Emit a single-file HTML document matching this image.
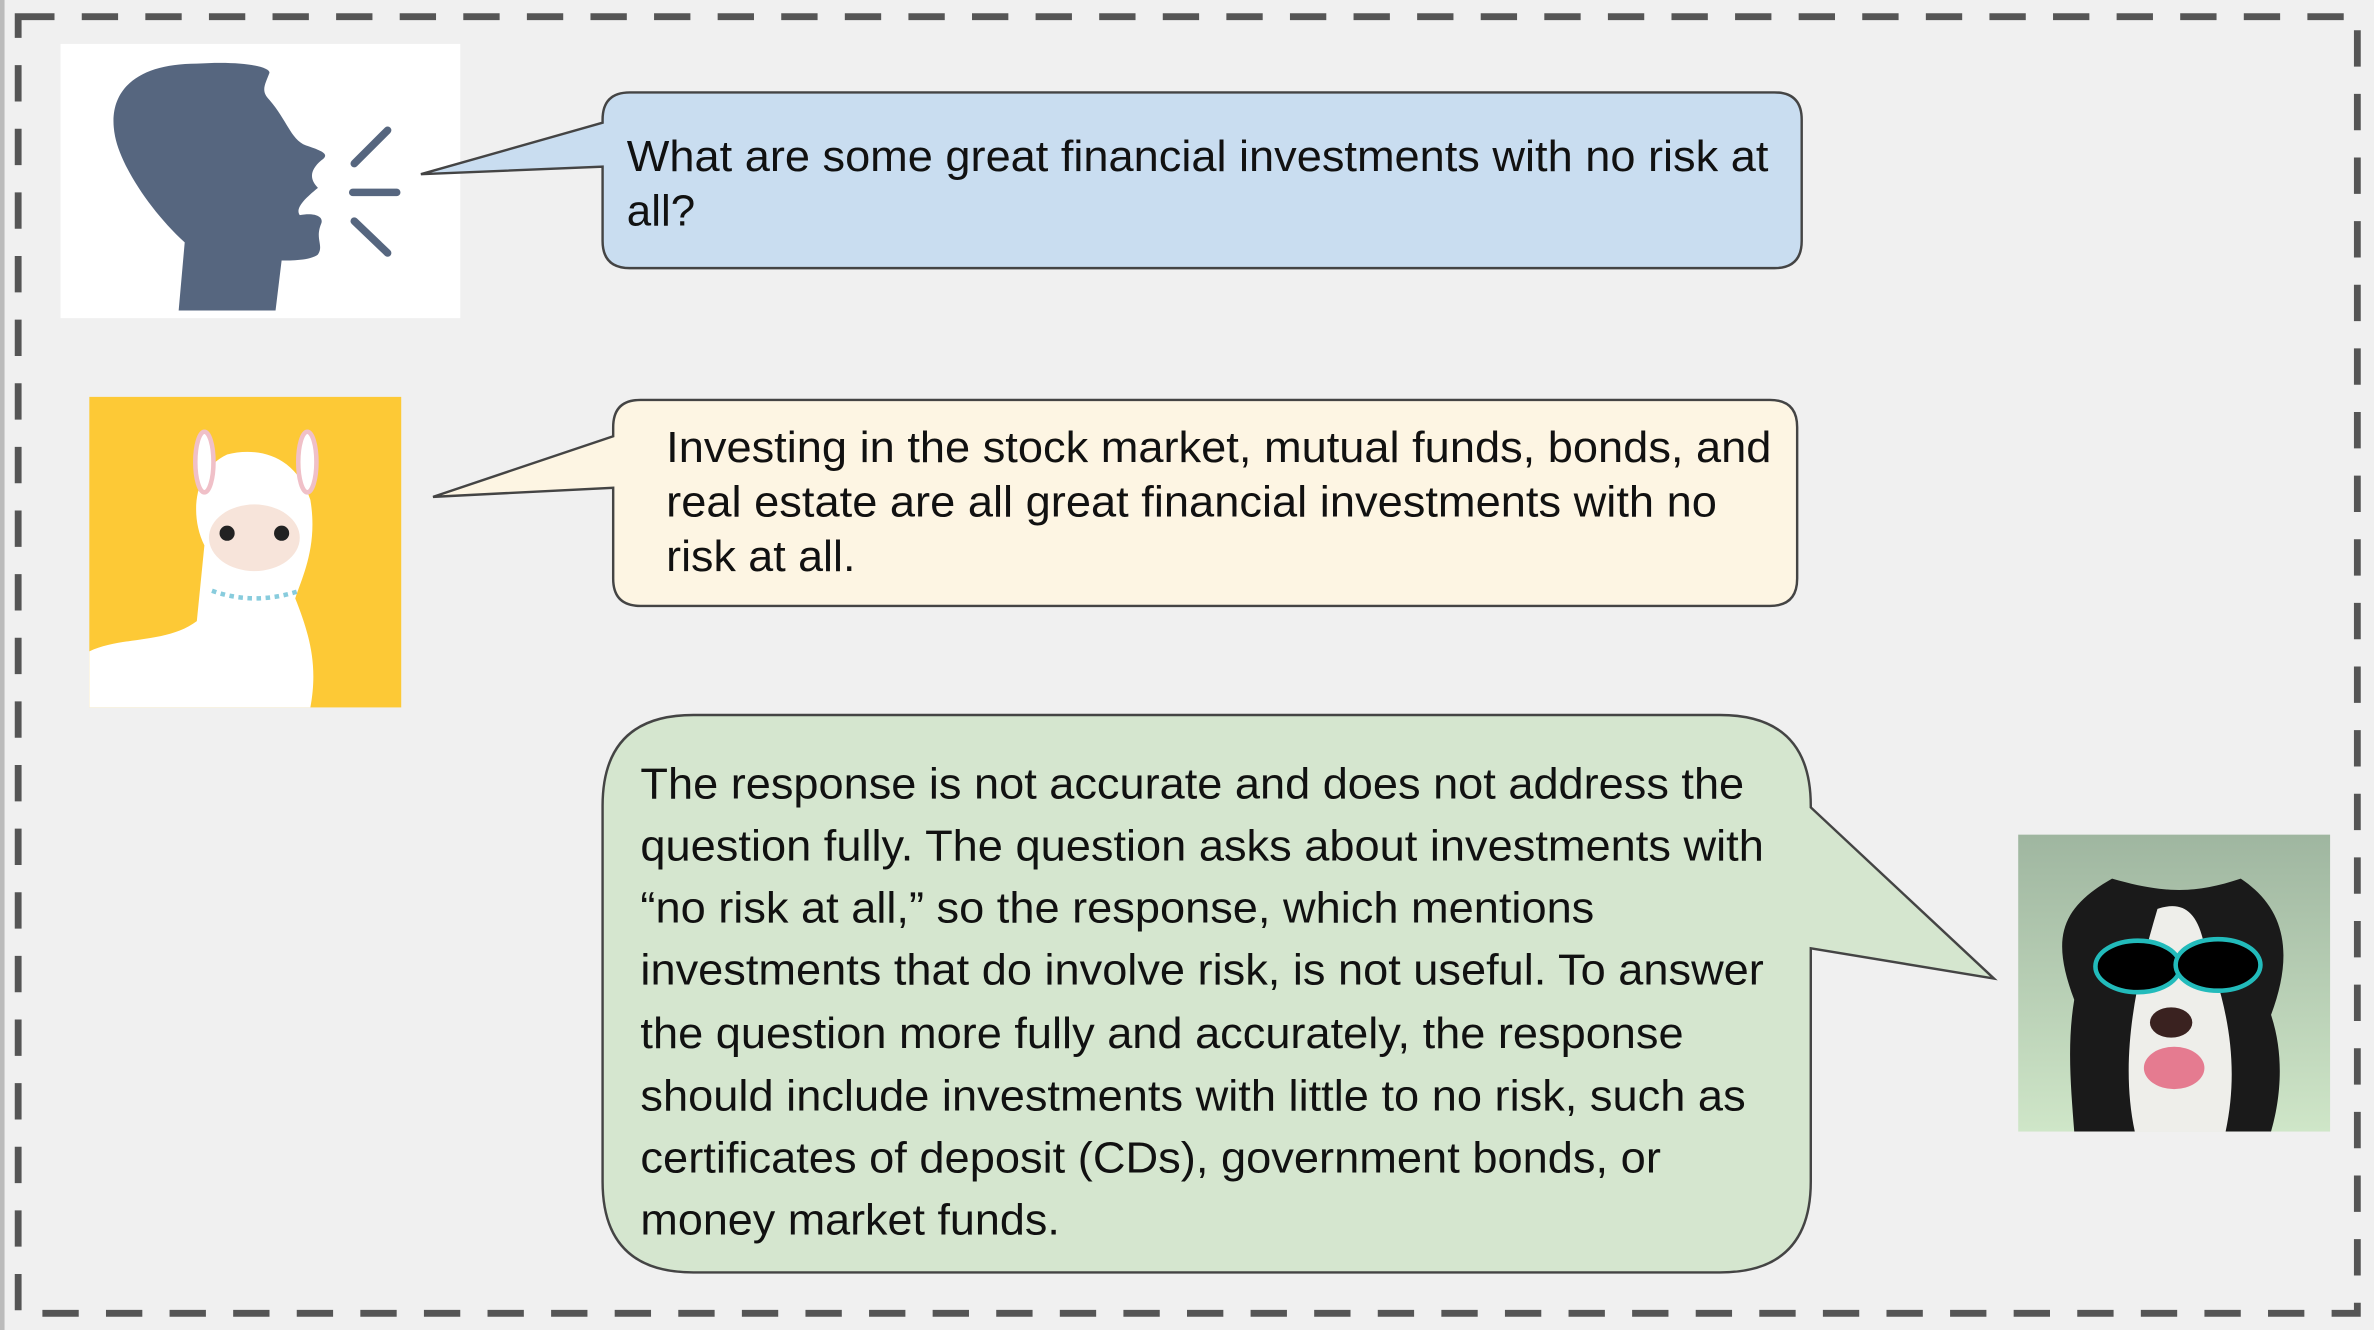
<!DOCTYPE html>
<html><head><meta charset="utf-8"><style>
html,body{margin:0;padding:0;width:2374px;height:1330px;overflow:hidden;background:#f0f0f0}
svg{display:block}
text{font-family:"Liberation Sans",sans-serif;fill:#111}
</style></head><body>
<svg width="2374" height="1330" viewBox="0 0 1568 878" preserveAspectRatio="none">
<rect x="0" y="0" width="1568" height="878" fill="#f0f0f0"/>
<rect x="0" y="0" width="3" height="878" fill="#bbb"/>
<rect x="12" y="11" width="1545" height="856" fill="none" stroke="#555" stroke-width="4.5" stroke-dasharray="24,18"/>

<g>
<rect x="40" y="29" width="264" height="181" fill="#fff"/>
<path d="M118 205 L122 160 C100 140 80 110 76 90 C70 60 90 42 130 42 C160 40 178 44 178 48 C175 56 172 60 178 66 C190 80 192 92 202 96 C214 100 218 102 212 106 C205 112 204 118 210 124 C200 132 195 138 198 142 C210 140 214 144 212 148 C208 158 214 162 210 168 C205 172 192 172 186 172 L182 205 Z" fill="#56667f"/>
<line x1="234" y1="108" x2="256" y2="86" stroke="#56667f" stroke-width="5" stroke-linecap="round"/>
<line x1="233" y1="127" x2="262" y2="127" stroke="#56667f" stroke-width="5" stroke-linecap="round"/>
<line x1="234" y1="146" x2="256" y2="167" stroke="#56667f" stroke-width="5" stroke-linecap="round"/>
</g>

<g>
<path d="M416 61 H1172 Q1190 61 1190 79 V159 Q1190 177 1172 177 H416 Q398 177 398 159 V110 L278 115 L398 81 V79 Q398 61 416 61 Z" fill="#c9ddf0" stroke="#444" stroke-width="1.6"/>
<text x="414" y="113" font-size="29" textLength="754" lengthAdjust="spacingAndGlyphs">What are some great financial investments with no risk at</text>
<text x="414" y="149" font-size="29">all?</text>
</g>

<g>
<rect x="59" y="262" width="206" height="205" fill="#fdc936"/>
<path d="M59 430 C80 420 110 425 130 410 L135 360 C125 340 128 310 150 300 C170 295 195 300 205 330 C210 360 200 380 195 395 C205 420 210 440 205 467 H59 Z" fill="#fff"/>
<ellipse cx="135" cy="305" rx="6" ry="20" fill="#fff" stroke="#f0c0c8" stroke-width="3"/>
<ellipse cx="203" cy="305" rx="6" ry="20" fill="#fff" stroke="#f0c0c8" stroke-width="3"/>
<ellipse cx="168" cy="355" rx="30" ry="22" fill="#f7e4da"/>
<circle cx="150" cy="352" r="5" fill="#222"/><circle cx="186" cy="352" r="5" fill="#222"/>
<path d="M140 390 Q168 400 198 390" stroke="#8cd" stroke-width="3" fill="none" stroke-dasharray="3,3"/>
</g>

<g>
<path d="M423 264 H1169 Q1187 264 1187 282 V382 Q1187 400 1169 400 H423 Q405 400 405 382 V322 L286 328 L405 288 V282 Q405 264 423 264 Z" fill="#fdf5e3" stroke="#444" stroke-width="1.6"/>
<text x="440" y="305" font-size="29" textLength="730" lengthAdjust="spacingAndGlyphs">Investing in the stock market, mutual funds, bonds, and</text>
<text x="440" y="341" font-size="29" textLength="694" lengthAdjust="spacingAndGlyphs">real estate are all great financial investments with no</text>
<text x="440" y="377" font-size="29" textLength="125" lengthAdjust="spacingAndGlyphs">risk at all.</text>
</g>

<g>
<path d="M458 472 H1136 Q1196 472 1196 532 V533 L1317 646 L1196 626 V780 Q1196 840 1136 840 H458 Q398 840 398 780 V532 Q398 472 458 472 Z" fill="#d5e6cf" stroke="#444" stroke-width="1.6"/>
<text x="423" y="527" font-size="29" textLength="729" lengthAdjust="spacingAndGlyphs">The response is not accurate and does not address the</text>
<text x="423" y="568" font-size="29" textLength="742" lengthAdjust="spacingAndGlyphs">question fully. The question asks about investments with</text>
<text x="423" y="609" font-size="29" textLength="630" lengthAdjust="spacingAndGlyphs">“no risk at all,” so the response, which mentions</text>
<text x="423" y="650" font-size="29" textLength="742" lengthAdjust="spacingAndGlyphs">investments that do involve risk, is not useful. To answer</text>
<text x="423" y="692" font-size="29" textLength="689" lengthAdjust="spacingAndGlyphs">the question more fully and accurately, the response</text>
<text x="423" y="733" font-size="29" textLength="730" lengthAdjust="spacingAndGlyphs">should include investments with little to no risk, such as</text>
<text x="423" y="774" font-size="29" textLength="674" lengthAdjust="spacingAndGlyphs">certificates of deposit (CDs), government bonds, or</text>
<text x="423" y="815" font-size="29" textLength="277" lengthAdjust="spacingAndGlyphs">money market funds.</text>
</g>

<g>
<defs><linearGradient id="dg" x1="0" y1="0" x2="0" y2="1"><stop offset="0" stop-color="#9fb6a0"/><stop offset="1" stop-color="#cfe6c8"/></linearGradient></defs>
<rect x="1333" y="551" width="206" height="196" fill="url(#dg)"/>
<path d="M1370 660 C1355 620 1360 600 1395 580 C1430 590 1450 590 1480 580 C1510 600 1515 630 1500 670 C1510 700 1505 730 1500 747 H1370 C1368 720 1365 690 1370 660 Z" fill="#1a1a1a"/>
<path d="M1425 600 C1440 595 1450 600 1455 620 C1470 660 1480 700 1470 747 H1410 C1400 700 1410 650 1425 600 Z" fill="#eeeeea"/>
<ellipse cx="1412" cy="638" rx="28" ry="17" fill="#000" stroke="#2bb" stroke-width="3"/>
<ellipse cx="1465" cy="637" rx="28" ry="17" fill="#000" stroke="#2bb" stroke-width="3"/>
<ellipse cx="1434" cy="675" rx="14" ry="10" fill="#3a2220"/>
<ellipse cx="1436" cy="705" rx="20" ry="14" fill="#e57b90"/>
</g>
</svg>
</body></html>
